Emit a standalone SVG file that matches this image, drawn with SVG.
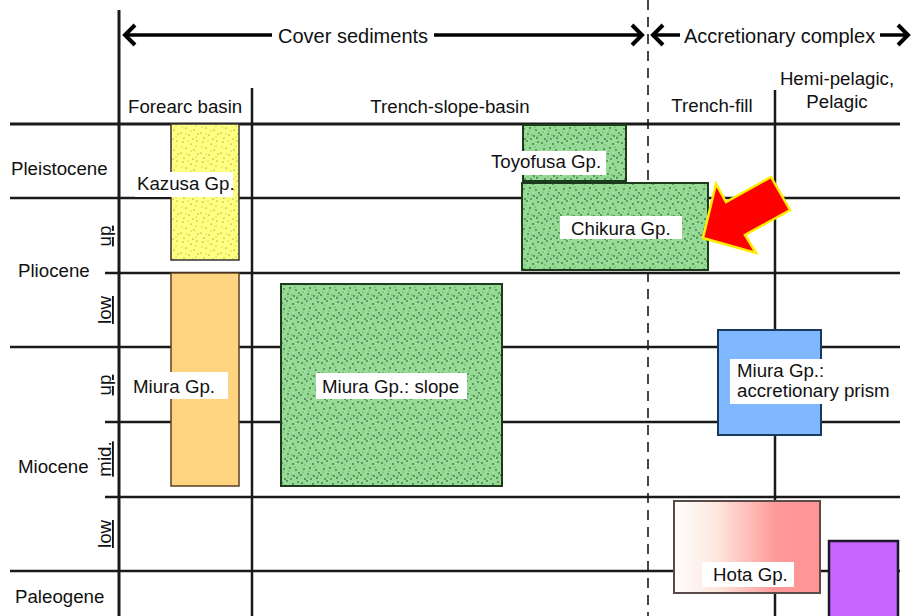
<svg xmlns="http://www.w3.org/2000/svg" width="914" height="616" viewBox="0 0 914 616">
<style>
text { font-family: "Liberation Sans", Arial, sans-serif; font-size: 18.7px; fill: #111; }
.head { font-size: 20px; }
.grid { stroke: #1a1a1a; stroke-width: 2.5; fill: none; }
.arrowline { stroke: #000; stroke-width: 3.5; fill: none; }
.lbl { fill: #fff; }
.sub { text-decoration: underline; }
</style>
<defs>
<marker id="chev" markerUnits="userSpaceOnUse" viewBox="0 0 14 24" refX="12" refY="12" markerWidth="14" markerHeight="24" orient="auto-start-reverse" overflow="visible">
<polyline points="2,2 12,12 2,22" fill="none" stroke="#000" stroke-width="4"/>
</marker>
<pattern id="dotsG" width="20" height="20" patternUnits="userSpaceOnUse">
<rect width="20" height="20" fill="#96dc96"/>
<g fill="#0a200a">
<circle cx="2" cy="3" r="0.75"/><circle cx="7" cy="1" r="0.7"/><circle cx="13" cy="4" r="0.75"/><circle cx="18" cy="2" r="0.7"/>
<circle cx="4" cy="9" r="0.7"/><circle cx="10" cy="8" r="0.75"/><circle cx="16" cy="10" r="0.7"/><circle cx="1" cy="15" r="0.75"/>
<circle cx="8" cy="14" r="0.7"/><circle cx="14" cy="16" r="0.75"/><circle cx="19" cy="13" r="0.7"/><circle cx="5" cy="19" r="0.75"/>
<circle cx="11" cy="19" r="0.7"/><circle cx="17" cy="18" r="0.75"/>
</g>
<g fill="#4a7a4a">
<circle cx="5" cy="5" r="0.6"/><circle cx="15" cy="7" r="0.6"/><circle cx="9" cy="11" r="0.6"/><circle cx="3" cy="12" r="0.6"/><circle cx="12" cy="15" r="0.6"/><circle cx="18" cy="16" r="0.6"/><circle cx="8" cy="17" r="0.6"/>
</g>
</pattern>
<pattern id="dotsY" width="20" height="20" patternUnits="userSpaceOnUse">
<rect width="20" height="20" fill="#ffff80"/>
<g fill="#5a5a3a">
<circle cx="3" cy="2" r="0.6"/><circle cx="11" cy="4" r="0.6"/><circle cx="17" cy="1" r="0.6"/><circle cx="6" cy="8" r="0.6"/>
<circle cx="14" cy="10" r="0.6"/><circle cx="1" cy="13" r="0.6"/><circle cx="9" cy="15" r="0.6"/><circle cx="18" cy="14" r="0.6"/>
<circle cx="4" cy="18" r="0.6"/><circle cx="13" cy="19" r="0.6"/>
</g>
<g fill="#a0a070">
<circle cx="8" cy="1" r="0.6"/><circle cx="16" cy="6" r="0.6"/><circle cx="2" cy="7" r="0.6"/><circle cx="11" cy="11" r="0.6"/><circle cx="6" cy="14" r="0.6"/><circle cx="16" cy="17" r="0.6"/>
</g>
</pattern>
<linearGradient id="hotaGrad" x1="0" y1="0" x2="1" y2="0">
<stop offset="0" stop-color="#ffffff"/>
<stop offset="0.3" stop-color="#fce6dc"/>
<stop offset="0.7" stop-color="#ff9999"/>
<stop offset="1" stop-color="#ff9494"/>
</linearGradient>
</defs>

<g id="grid">
<line class="grid" x1="119" y1="10" x2="119" y2="616" style="stroke-width:3"/>
<line class="grid" x1="252" y1="88" x2="252" y2="616"/>
<line class="grid" x1="775" y1="90" x2="775" y2="616"/>
<line x1="648" y1="0" x2="648" y2="616" stroke="#1a1a1a" stroke-width="1.6" stroke-dasharray="10 7"/>
<line class="grid" x1="10" y1="124" x2="900" y2="124" style="stroke-width:3"/>
<line class="grid" x1="10" y1="198" x2="900" y2="198"/>
<line class="grid" x1="105" y1="273" x2="900" y2="273"/>
<line class="grid" x1="10" y1="347" x2="900" y2="347"/>
<line class="grid" x1="105" y1="422" x2="900" y2="422"/>
<line class="grid" x1="105" y1="497" x2="900" y2="497"/>
<line class="grid" x1="10" y1="571" x2="900" y2="571"/>
</g>

<g id="header">
<line class="arrowline" x1="125" y1="35" x2="272" y2="35" marker-start="url(#chev)"/>
<text class="head" x="278" y="43">Cover sediments</text>
<line class="arrowline" x1="434" y1="35" x2="642" y2="35" marker-end="url(#chev)"/>
<line class="arrowline" x1="653" y1="35" x2="680" y2="35" marker-start="url(#chev)"/>
<text class="head" x="684" y="43">Accretionary complex</text>
<line class="arrowline" x1="880" y1="35" x2="908" y2="35" marker-end="url(#chev)"/>
<text x="128" y="113">Forearc basin</text>
<text x="450" y="113" text-anchor="middle">Trench-slope-basin</text>
<text x="712" y="112" text-anchor="middle">Trench-fill</text>
<text x="837" y="85" text-anchor="middle">Hemi-pelagic,</text>
<text x="837" y="108" text-anchor="middle">Pelagic</text>
</g>

<g id="ages">
<text x="11" y="175">Pleistocene</text>
<text x="18" y="277">Pliocene</text>
<text x="18" y="473">Miocene</text>
<text x="15" y="603">Paleogene</text>
<text class="sub" transform="translate(111,236) rotate(-90)" text-anchor="middle">up</text>
<text class="sub" transform="translate(111,310) rotate(-90)" text-anchor="middle">low</text>
<text class="sub" transform="translate(111,385) rotate(-90)" text-anchor="middle">up</text>
<text class="sub" transform="translate(111,459) rotate(-90)" text-anchor="middle">mid.</text>
<text class="sub" transform="translate(111,534) rotate(-90)" text-anchor="middle">low</text>
</g>

<g id="kazusa">
<rect x="171" y="124" width="68" height="136" fill="url(#dotsY)" stroke="#333" stroke-width="1.5"/>
<rect class="lbl" x="135" y="172" width="98" height="25"/>
<text x="137" y="190">Kazusa Gp.</text>
</g>

<g id="miura-forearc">
<rect x="171" y="273" width="68" height="213" fill="#ffd480" stroke="#5a4020" stroke-width="1.5"/>
<rect class="lbl" x="130" y="372" width="98" height="27"/>
<text x="133" y="393">Miura Gp.</text>
</g>

<g id="miura-slope">
<rect x="281" y="284" width="221" height="202" fill="url(#dotsG)" stroke="#1c3c1c" stroke-width="2"/>
<rect class="lbl" x="316" y="373" width="151" height="26"/>
<text x="322" y="393">Miura Gp.: slope</text>
</g>

<g id="toyofusa">
<rect x="523" y="125" width="103" height="56" fill="url(#dotsG)" stroke="#1c3c1c" stroke-width="2"/>
<rect class="lbl" x="488" y="151" width="118" height="24"/>
<text x="491" y="168">Toyofusa Gp.</text>
</g>

<g id="chikura">
<rect x="522" y="183" width="186" height="87" fill="url(#dotsG)" stroke="#1c3c1c" stroke-width="2"/>
<rect class="lbl" x="560" y="216" width="122" height="23"/>
<text x="571" y="235">Chikura Gp.</text>
</g>

<g id="red-arrow">
<polygon points="703,238 716,184 726,202 771,177 790,210 745,235 756,253" fill="#ff0000" stroke="#ffee00" stroke-width="2.5" stroke-linejoin="miter"/>
</g>

<g id="miura-prism">
<rect x="718" y="330" width="103" height="105" fill="#80b8ff" stroke="#1a3a60" stroke-width="2"/>
<rect class="lbl" x="730" y="359" width="163" height="45"/>
<text x="737" y="377">Miura Gp.:</text>
<text x="737" y="397">accretionary prism</text>
</g>

<g id="hota">
<rect x="674" y="501" width="146" height="92" fill="url(#hotaGrad)" stroke="#5a4a4a" stroke-width="2"/>
<rect class="lbl" x="702" y="562" width="92" height="25"/>
<text x="713" y="581">Hota Gp.</text>
</g>

<g id="pelagic">
<rect x="829" y="541" width="69" height="80" fill="#c864ff" stroke="#1a1a2a" stroke-width="2.5"/>
</g>
</svg>
